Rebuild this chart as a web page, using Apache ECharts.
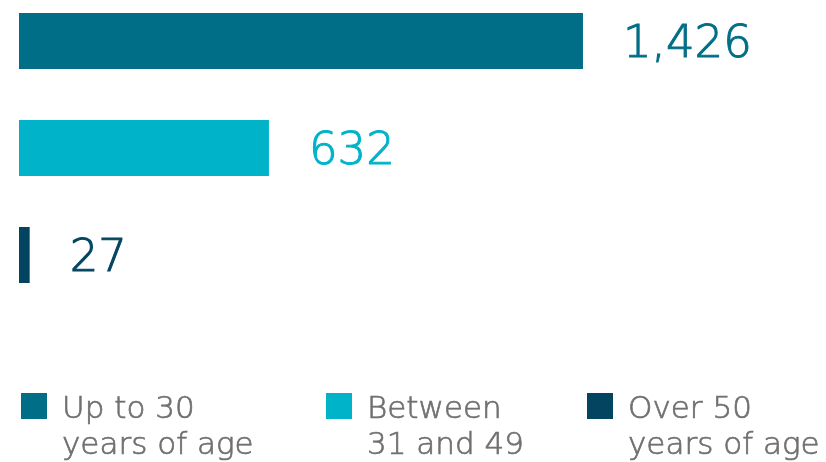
<!DOCTYPE html>
<html>
<head>
<meta charset="utf-8">
<script src="https://cdn.jsdelivr.net/npm/echarts@6/dist/echarts.min.js"></script>
<style>
  html, body { margin: 0; padding: 0; background: #ffffff; }
  #chart { width: 826px; height: 462px; }
</style>
</head>
<body>
<div id="chart"></div>
<script>
// Employees by age group
const categories = ['Up to 30 years of age', 'Between 31 and 49', 'Over 50 years of age'];
const legendLines = [['Up to 30', 'years of age'], ['Between', '31 and 49'], ['Over 50', 'years of age']];
const values = [1426, 632, 27];
const colors = ['#006e87', '#00b3c9', '#034560'];

const FONT = '"DejaVu Sans", "Open Sans", sans-serif';

// one series per group, each filling only its own row, so the legend gets one entry per bar
const series = categories.map((name, i) => ({
  name: name,
  type: 'bar',
  barWidth: 56,
  barGap: '-100%',
  itemStyle: { color: colors[i] },
  label: {
    show: true,
    position: 'right',
    distance: 40,
    offset: [0, 4],
    color: colors[i],
    textBorderColor: colors[i],
    textBorderWidth: 1,
    fontFamily: FONT,
    fontWeight: 300,
    fontSize: 45,
    formatter: p => p.value.toLocaleString('en-US')
  },
  data: categories.map((c, j) => (j === i ? values[i] : '-'))
}));

// legend text is centred on the swatch, so a leading spacer line puts the first text line beside it
const legendLeft = [21, 326, 587];
const legendText = {
  color: '#707070',
  textBorderColor: '#707070',
  textBorderWidth: 0.7,
  fontFamily: FONT,
  fontWeight: 300,
  fontSize: 31,
  lineHeight: 36
};
const legends = categories.map((name, i) => ({
  data: [name],
  left: legendLeft[i],
  top: 365,
  padding: 0,
  itemWidth: 26,
  itemHeight: 26,
  icon: 'rect',
  selectedMode: false,
  formatter: () => '{s| }\n{t|' + legendLines[i][0] + '}\n{t|' + legendLines[i][1] + '}',
  textStyle: {
    padding: [0, 0, 0, 10],
    rich: {
      s: { fontSize: 10, lineHeight: 44 },
      t: legendText
    }
  }
}));

const chart = echarts.init(document.getElementById('chart'), null, { renderer: 'canvas' });
chart.setOption({
  animation: false,
  backgroundColor: '#ffffff',
  // rows sit on the grid edges (boundaryGap off): centres at top, middle and bottom
  grid: { left: 19, top: 41, width: 791, height: 214, containLabel: false },
  xAxis: {
    type: 'value',
    min: 0,
    max: 2000,
    show: false
  },
  yAxis: {
    type: 'category',
    data: categories,
    inverse: true,
    boundaryGap: false,
    show: false
  },
  legend: legends,
  series: series
});
</script>
</body>
</html>
